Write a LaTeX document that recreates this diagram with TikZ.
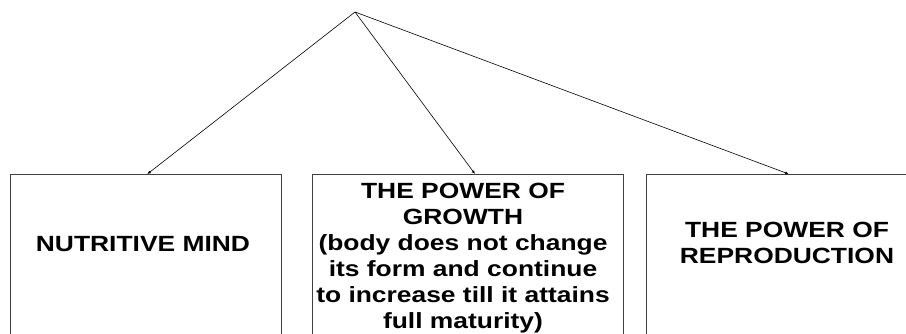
\documentclass[tikz,border=0pt]{standalone}
\usepackage{fontspec}
\newfontfamily\boxfont[FakeStretch=1.2]{Liberation Sans}
\usetikzlibrary{arrows.meta, positioning}
\begin{document}
\begin{tikzpicture}[
  x=1pt, y=-1pt,
  >={Latex[length=3.5pt,width=3pt]},
  part/.style={rectangle, draw=black!75, line width=0.8pt, fill=white,
               minimum height=230pt, inner sep=0pt, anchor=north},
  txt/.style={align=center, inner sep=0pt,
              font=\boxfont\bfseries\fontsize{22}{26}\selectfont},
  link/.style={->, line width=0.6pt, black}]
\clip (0,0) rectangle (906,333);
\fill[white] (0,0) rectangle (906,333);
% common top point
\coordinate (top) at (355,12);
% the three parts (they run on past the bottom edge)
\node[part, minimum width=271pt] (b1) at (145.9,174) {};
\node[part, minimum width=311pt] (b2) at (468,174)   {};
\node[part, minimum width=281pt] (b3) at (787.2,174) {};
% texts
\node[txt] (t1) at (143,244) {NUTRITIVE MIND};
\node[txt] (t2) at (463,258) {THE POWER OF\\GROWTH\\(body does not change\\its form and continue\\to increase till it attains\\full maturity)};
\node[txt] (t3) at (787,243) {THE POWER OF\\REPRODUCTION};
% links from the top point
\draw[link] (top) -- ([xshift=1.5pt]b1.north);
\draw[link] (top) -- ([xshift=7pt]b2.north);
\draw[link] (top) -- ([xshift=1.5pt]b3.north);
\end{tikzpicture}
\end{document}
